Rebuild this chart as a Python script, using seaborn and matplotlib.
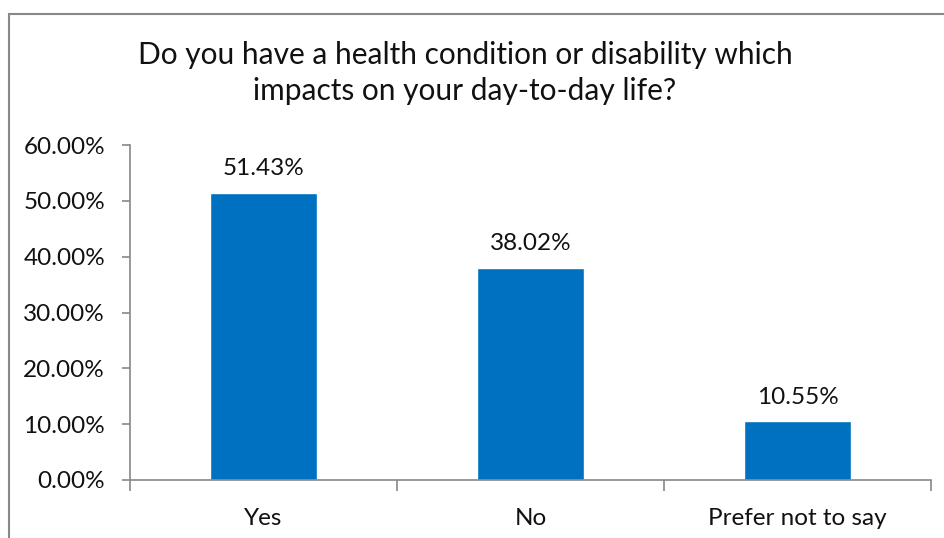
import matplotlib
matplotlib.use("Agg")
import matplotlib.pyplot as plt
import matplotlib.patches as mpatches
import seaborn as sns
import pandas as pd

categories = ["Yes", "No", "Prefer not to say"]
values = [51.43, 38.02, 10.55]
yticks = [0, 10, 20, 30, 40, 50, 60]
title = "Do you have a health condition or disability which\nimpacts on your day-to-day life?"

sns.set_theme(style="white")
plt.rcParams['font.family'] = ['Lato', 'DejaVu Sans']

df = pd.DataFrame({"cat": categories, "val": values})

fig = plt.figure(figsize=(9.45, 5.38), dpi=100)
ax = fig.add_axes([130/945, 1-480/538, (931-130)/945, (480-145)/538])

sns.barplot(data=df, x="cat", y="val", color="#0070C0", width=0.40, ax=ax, saturation=1)

for i, v in enumerate(values):
    ax.annotate(f"{v:.2f}%", (i, v), xytext=(0, 24), textcoords="offset pixels",
                ha="center", va="center", fontsize=17.5, color="#111111")

ax.set_ylim(0, 60)
ax.set_xlim(-0.5, 2.5)
ax.set_yticks(yticks)
ax.set_yticklabels([f"{t:.2f}%" for t in yticks], fontsize=17.5, color="#111111")
ax.set_xticks([0, 1, 2])
ax.set_xticklabels(categories, fontsize=17.5, color="#111111")
ax.tick_params(axis="x", length=0, pad=20)
ax.tick_params(axis="y", length=6, width=1.2, color="#888888", left=True, pad=12)
ax.set_xticks([-0.5, 0.5, 1.5, 2.5], minor=True)
ax.tick_params(axis="x", which="minor", length=8, width=1.2, color="#888888", bottom=True, direction="out")
ax.set_xlabel("")
ax.set_ylabel("")
for s in ["top", "right"]:
    ax.spines[s].set_visible(False)
for s in ["left", "bottom"]:
    ax.spines[s].set_color("#888888")
    ax.spines[s].set_linewidth(1.2)

fig.text(465/945, 1-73/538, title, ha="center", va="center", fontsize=21.5, color="#111111",
         linespacing=1.38)

border = mpatches.Rectangle((9/945, -0.1), 1.2, 1.1 - 14/538, transform=fig.transFigure,
                            fill=False, edgecolor="#888888", linewidth=1.5, clip_on=False)
fig.patches.append(border)

fig.savefig("out.png", dpi=100)
